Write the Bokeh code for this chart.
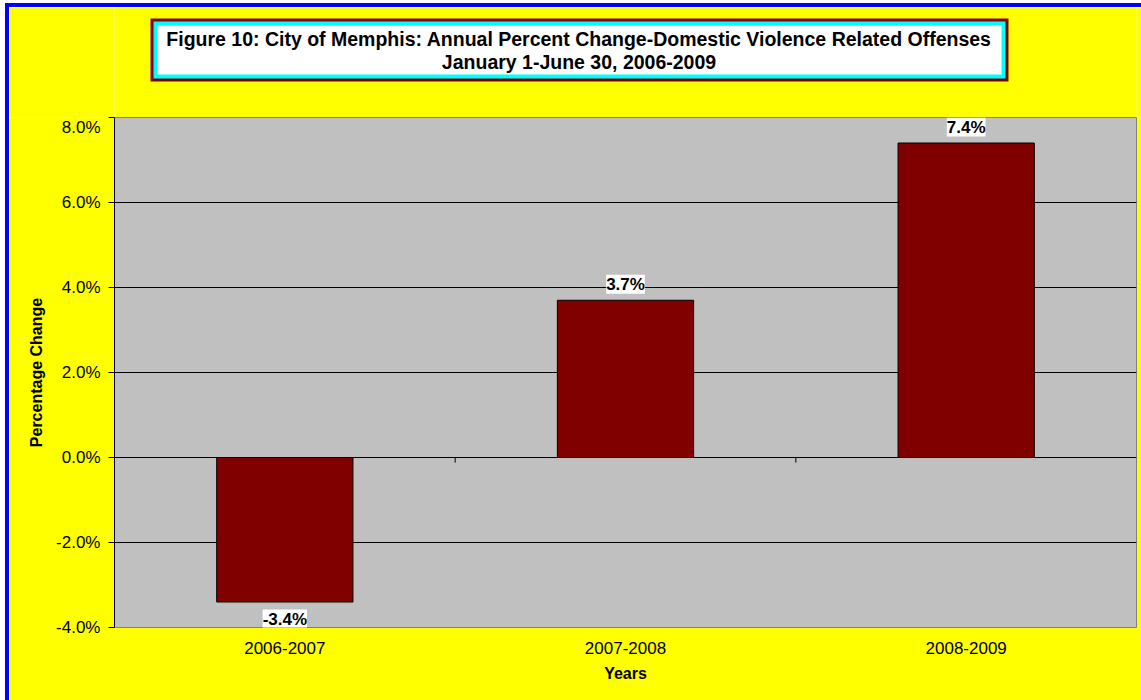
from bokeh.plotting import figure
from bokeh.layouts import column
from bokeh.models import ColumnDataSource, Range1d, FixedTicker, PrintfTickFormatter, LabelSet
from bokeh.core.properties import value
from bokeh.embed import file_html
from bokeh.resources import INLINE

# ---- data ----
categories = ["2006-2007", "2007-2008", "2008-2009"]
values = [-3.4, 3.7, 7.4]
value_labels = ["-3.4%", "3.7%", "7.4%"]
y_ticks = [-4, -2, 0, 2, 4, 6, 8]
title_lines = [
    "Figure 10: City of Memphis: Annual Percent Change-Domestic Violence Related Offenses",
    "January 1-June 30, 2006-2009",
]
x_title = "Years"
y_title = "Percentage Change"

FONT = "Liberation Sans"
YELLOW = "#FFFF00"
n = len(categories)
xs = [i + 0.5 for i in range(n)]
W = 1132
TH = 110          # height of title band
H = 693 - TH      # height of chart figure
BL, BR, BB = 105, 5, 73

# ---------------- title band ----------------
# its frame is aligned with the chart's frame by the column layout,
# so the x range is expressed in canvas pixels of that frame
t = figure(width=W, height=TH, output_backend="svg", toolbar_location=None,
           x_range=Range1d(BL, W - BR), y_range=Range1d(TH, 0),
           x_axis_type=None, y_axis_type=None,
           min_border_left=BL, min_border_right=BR, min_border_top=0, min_border_bottom=0)
t.background_fill_color = YELLOW
t.border_fill_color = YELLOW
t.outline_line_color = None
t.grid.visible = False
bx0, bx1, by0, by1 = 141, 999, 11, 74
t.quad(left=[bx0], right=[bx1], top=[by0], bottom=[by1], fill_color="#800000", line_color=None)
t.quad(left=[bx0 + 3], right=[bx1 - 3], top=[by0 + 3], bottom=[by1 - 3], fill_color="#00FFFF", line_color=None)
t.quad(left=[bx0 + 7], right=[bx1 - 7], top=[by0 + 7], bottom=[by1 - 7], fill_color="#FFFFFF", line_color=None)
t.text(x=[569.5, 569.5], y=[31, 54], text=title_lines,
       text_font=value(FONT), text_font_style="bold", text_font_size="19.5px",
       text_align="center", text_baseline="middle", text_color="#000000")

# ---------------- chart ----------------
p = figure(width=W, height=H, output_backend="svg", toolbar_location=None,
           x_range=Range1d(0, n), y_range=Range1d(min(y_ticks), max(y_ticks)),
           min_border_left=BL, min_border_right=BR, min_border_top=0, min_border_bottom=BB)
p.border_fill_color = YELLOW
p.background_fill_color = "#C0C0C0"
p.outline_line_color = "#808080"
p.outline_line_width = 1

p.xgrid.grid_line_color = None
p.ygrid.grid_line_color = "#000000"
p.ygrid.grid_line_width = 1
p.ygrid.ticker = FixedTicker(ticks=y_ticks)

p.yaxis.ticker = FixedTicker(ticks=y_ticks)
p.yaxis.formatter = PrintfTickFormatter(format="%.1f%%")
p.yaxis.axis_line_color = "#000000"
p.yaxis.major_tick_line_color = "#000000"
p.yaxis.major_tick_out = 6
p.yaxis.major_tick_in = 0
p.yaxis.minor_tick_line_color = None
p.yaxis.major_label_text_font = FONT
p.yaxis.major_label_text_font_size = "17px"
p.yaxis.major_label_text_color = "#000000"
p.yaxis.major_label_standoff = 8
p.yaxis.axis_label = y_title
p.yaxis.axis_label_text_font = FONT
p.yaxis.axis_label_text_font_size = "16px"
p.yaxis.axis_label_text_font_style = "bold"
p.yaxis.axis_label_text_color = "#000000"
p.yaxis.axis_label_standoff = 8

p.xaxis.ticker = FixedTicker(ticks=xs)
p.xaxis.major_label_overrides = {x: c for x, c in zip(xs, categories)}
p.xaxis.axis_line_color = None
p.xaxis.major_tick_line_color = None
p.xaxis.minor_tick_line_color = None
p.xaxis.major_tick_out = 0
p.xaxis.major_tick_in = 0
p.xaxis.major_label_text_font = FONT
p.xaxis.major_label_text_font_size = "17px"
p.xaxis.major_label_text_color = "#000000"
p.xaxis.major_label_standoff = 14
p.xaxis.axis_label = x_title
p.xaxis.axis_label_text_font = FONT
p.xaxis.axis_label_text_font_size = "16px"
p.xaxis.axis_label_text_font_style = "bold"
p.xaxis.axis_label_text_color = "#000000"
p.xaxis.axis_label_standoff = 8

src = ColumnDataSource(dict(x=xs, top=values, lab=value_labels,
                            off=[16 if v >= 0 else -17 for v in values]))
p.vbar(x="x", top="top", bottom=0, width=0.4, source=src,
       fill_color="#800000", line_color="#000000", line_width=1)

bounds = list(range(1, n))
p.segment(x0=bounds, x1=bounds, y0=[0] * len(bounds), y1=[-0.12] * len(bounds),
          line_color="#000000", line_width=1)

labels = LabelSet(x="x", y="top", text="lab", source=src, y_offset="off",
                  text_align="center", text_baseline="middle",
                  text_font=value(FONT), text_font_size=value("17px"),
                  text_font_style=value("bold"),
                  text_color="#000000", background_fill_color="#FFFFFF")
p.add_layout(labels)

page = column(t, p, spacing=0)
page.styles = {"border-left": "4px solid #0000FF", "border-top": "4px solid #0000FF",
               "margin-left": "5px", "margin-top": "3px"}

open("out.html", "w").write(file_html(page, INLINE))
